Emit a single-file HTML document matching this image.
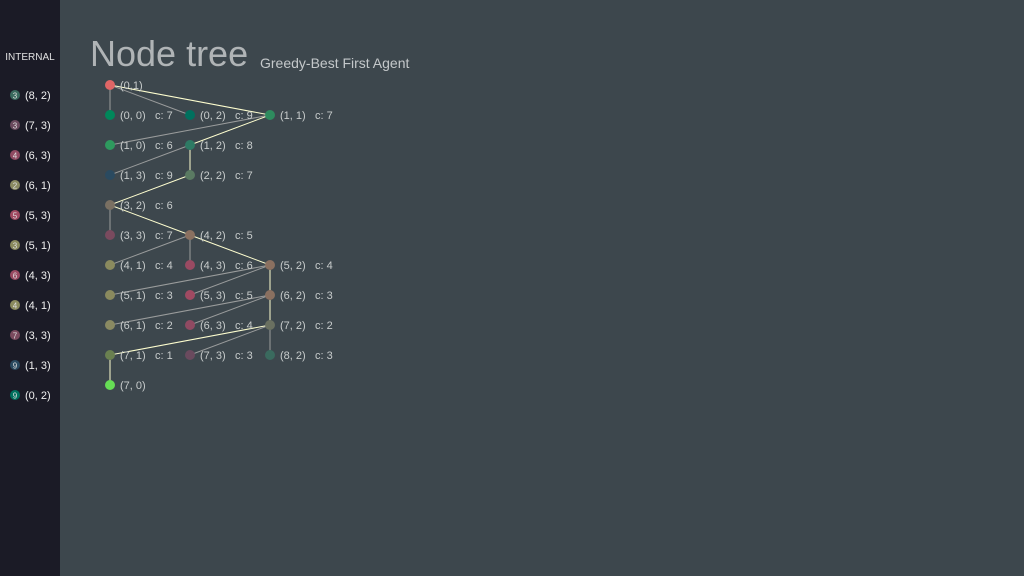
<!DOCTYPE html>
<html><head><meta charset="utf-8"><style>
body{margin:0;width:1024px;height:576px;overflow:hidden;background:#3d474d;font-family:"Liberation Sans","DejaVu Sans",sans-serif}
#side{position:absolute;left:0;top:0;width:60px;height:576px;background:#1b1b26}
svg{position:absolute;left:0;top:0}
</style></head><body>
<div id="side"></div>
<svg id="s" width="1024" height="576">
<text x="30" y="60" fill="#e0e0e0" font-size="10" text-anchor="middle">INTERNAL</text>
<text x="90" y="66" fill="#b0b4b6" font-size="36">Node tree</text>
<text x="260" y="68" fill="#c4c8ca" font-size="14">Greedy-Best First Agent</text>
</svg>
<script>
const nodeLabels=["(0,1)","(0, 0)","(0, 2)","(1, 1)","(1, 0)","(1, 2)","(1, 3)","(2, 2)","(3, 2)","(3, 3)","(4, 2)","(4, 1)","(4, 3)","(5, 2)","(5, 1)","(5, 3)","(6, 2)","(6, 1)","(6, 3)","(7, 2)","(7, 1)","(7, 3)","(8, 2)","(7, 0)"];
const nodeCol=[0,0,1,2,0,1,0,1,0,0,1,0,1,2,0,1,2,0,1,2,0,1,2,0];
const nodeRow=[0,1,1,1,2,2,3,3,4,5,5,6,6,6,7,7,7,8,8,8,9,9,9,10];
const nodeParent=[-1,0,0,0,3,3,5,5,7,8,8,10,10,10,13,13,13,16,16,16,19,19,19,20];
const nodeCost=[null,7,9,7,6,8,9,7,6,7,5,4,6,4,3,5,3,2,4,2,1,3,3,null];
const onPath=[1,0,0,1,0,1,0,1,1,0,1,0,0,1,0,0,1,0,0,1,1,0,0,1];
const nodeColor=["#e06666","#00875a","#00705e","#2e8b5e","#2e9a5e","#2e7a64","#2a4a60","#5a7a62","#7a7062","#7a4a5e","#8a7060","#8a8a5e","#9a4a62","#8a7060","#8a8a5e","#a04a62","#8a7060","#8a8a62","#904a62","#6a7060","#6a8050","#6a4a5e","#3a6a5e","#66dd55"];
const sideCost=[3,3,4,2,5,3,6,4,7,9,9];
const sideLabel=["(8, 2)","(7, 3)","(6, 3)","(6, 1)","(5, 3)","(5, 1)","(4, 3)","(4, 1)","(3, 3)","(1, 3)","(0, 2)"];
const sideColor=["#3a6a5e","#6a4a5e","#904a62","#8a8a62","#a04a62","#8a8a5e","#9a4a62","#8a8a5e","#7a4a5e","#2a4a60","#00705e"];
const NS="http://www.w3.org/2000/svg",s=document.getElementById('s');
const X=c=>110+c*80, Y=r=>85+r*30;
function mk(t,a,txt){const e=document.createElementNS(NS,t);for(const k in a)e.setAttribute(k,a[k]);if(txt!=null)e.textContent=txt;s.appendChild(e);return e;}
nodeParent.forEach((p,i)=>{if(p<0)return;
 const e=mk('line',{x1:X(nodeCol[p]),y1:Y(nodeRow[p]),x2:X(nodeCol[i]),y2:Y(nodeRow[i]),stroke:onPath[i]?'#ffffd0':'#9a9c9c','stroke-width':1});
 
 });
nodeLabels.forEach((l,i)=>{const x=X(nodeCol[i]),y=Y(nodeRow[i]);
 const c=mk('circle',{cx:x,cy:y,r:5,fill:nodeColor[i]});
 
 
 const t=mk('text',{x:x+10,y:y+4,fill:'#c8cccc','font-size':11},l);
 
 
 if(nodeCost[i]!=null){const k=mk('text',{x:x+45,y:y+4,fill:'#c8cccc','font-size':11},'c: '+nodeCost[i]);
 
 }
});
sideLabel.forEach((l,i)=>{const y=95+i*30;
 const c=mk('circle',{cx:15,cy:y,r:5,fill:sideColor[i]});
 
 
 const n=mk('text',{x:15,y:y+3.5,fill:'#dddddd','font-size':8,'text-anchor':'middle'},sideCost[i]);
 
 
 const t=mk('text',{x:25,y:y+4,fill:'#f0f0f0','font-size':11},l);
 
 
});
</script>
</body></html>
